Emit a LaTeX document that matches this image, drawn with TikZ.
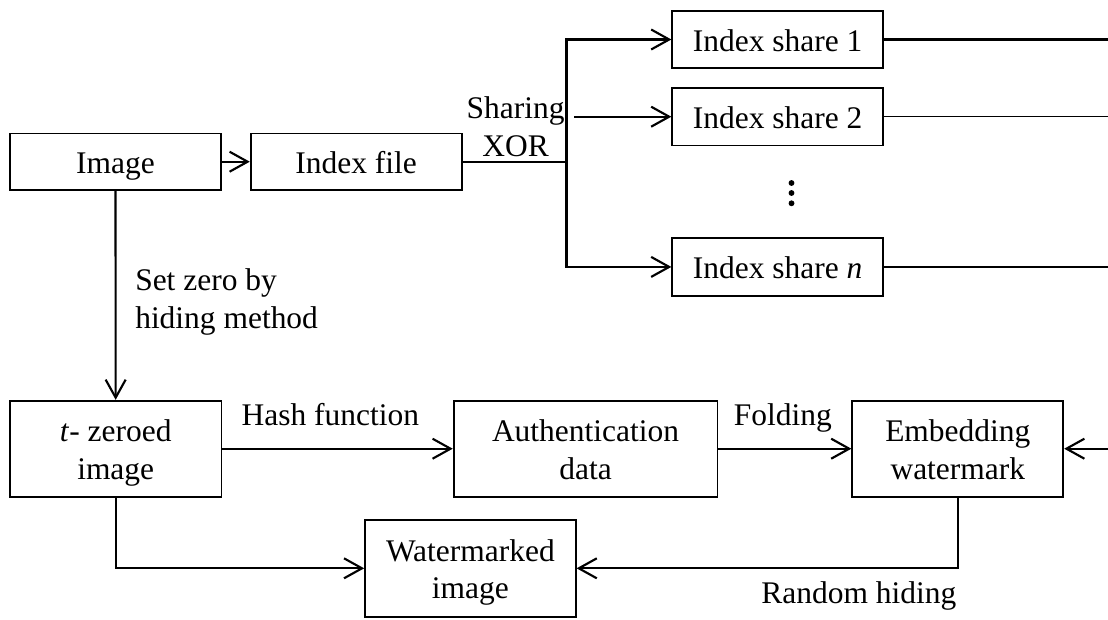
\documentclass[tikz,border=0pt]{standalone}
\usepackage{fontspec}
\setmainfont{Liberation Serif}
\usetikzlibrary{arrows.meta}

\tikzset{
  box/.style={draw, line width=1.3pt, inner sep=0pt, align=center,
              text height=21.2pt, text depth=3.3pt},
  box2/.style={box, text height=49.3pt},
  lbl/.style={inner sep=0pt, anchor=base},
  conn/.style={line width=1.6pt},
  thinconn/.style={line width=1.1pt},
  arr/.style={conn, -{Straight Barb[length=13.5pt,width=15pt]}},
  dot/.style={circle, fill, inner sep=0pt, minimum size=4.4pt},
}

\begin{document}
\begin{tikzpicture}[x=0.75pt, y=-0.75pt, font=\fontsize{23.6pt}{28.1pt}\selectfont]
  \useasboundingbox (0,0) rectangle (1108,619);

  % processing blocks
  \node[box, minimum width=158.3pt, minimum height=42.5pt] (image) at (115.5,161.7) {Image};
  \node[box, minimum width=158.3pt, minimum height=42.5pt] (file)  at (356.2,161.7) {Index file};
  \node[box, minimum width=158.2pt, minimum height=43.2pt] (share1) at (777.7,39.5)  {Index share 1};
  \node[box, minimum width=158.2pt, minimum height=43.2pt] (share2) at (777.7,116.7) {Index share 2};
  \node[box, minimum width=158.2pt, minimum height=43.6pt] (sharen) at (777.7,266.9) {Index share \textit{n}};
  \node[box2, minimum width=158.5pt, minimum height=72pt] (tzero) at (115.7,448.7) {\textit{t}- zeroed\\image};
  \node[box2, minimum width=197.8pt, minimum height=72pt] (auth)  at (585.5,448.7) {Authentication\\data};
  \node[box2, minimum width=158.3pt, minimum height=72pt] (embed) at (957.8,448.7) {Embedding\\watermark};
  \node[box2, minimum width=158pt,   minimum height=72.5pt] (water) at (470.4,568.3) {Watermarked\\image};

  % vertical ellipsis between the shares
  \node[dot] (dota) at (791.5,183) {};
  \node[dot] (dotb) at (791.5,193) {};
  \node[dot] (dotc) at (791.5,203.3) {};

  % helper points
  \coordinate (split) at (566.5,161.7);
  \coordinate (s2)    at (574.2,116.7);
  \coordinate (r1)    at (1108,39.5);
  \coordinate (r2)    at (1108,116.7);
  \coordinate (rn)    at (1108,266.9);
  \coordinate (rin)   at (1108,448.7);

  % index sharing
  \draw[arr] (image) -- (file);
  \draw[conn] (file.east) -- (split);
  \draw[conn, line cap=rect] (split |- share1.west) -- (split |- sharen.west);
  \draw[arr] (split |- share1.west) -- (share1.west);
  \draw[arr] (s2) -- (share2.west);
  \draw[arr] (split |- sharen.west) -- (sharen.west);
  \draw[conn] (share1.east) -- (r1);
  \draw[thinconn] (share2.east) -- (r2);
  \draw[thinconn] (sharen.east) -- (rn);

  % watermarking chain
  \draw[arr] (image) -- (tzero);
  \draw[arr] (tzero) -- (auth);
  \draw[arr] (auth) -- (embed);
  \draw[arr] (rin) -- (embed.east);
  \draw[arr] (tzero.south) |- (water.west);
  \draw[arr] (embed.south) |- (water.east);

  % connector labels
  \node[lbl, anchor=base west] (setzeroa) at (135,290.7) {Set zero by};
  \node[lbl, anchor=base west] (setzerob) at (135,328.3) {hiding method};
  \node[lbl] (sharing) at (515.6,118.3) {Sharing};
  \node[lbl] (xor)     at (515.6,156.7) {XOR};
  \node[lbl] (hash)    at (330.4,425)   {Hash function};
  \node[lbl] (fold)    at (782.8,425)   {Folding};
  \node[lbl] (rand)    at (858.8,603.3) {Random hiding};
\end{tikzpicture}
\end{document}
